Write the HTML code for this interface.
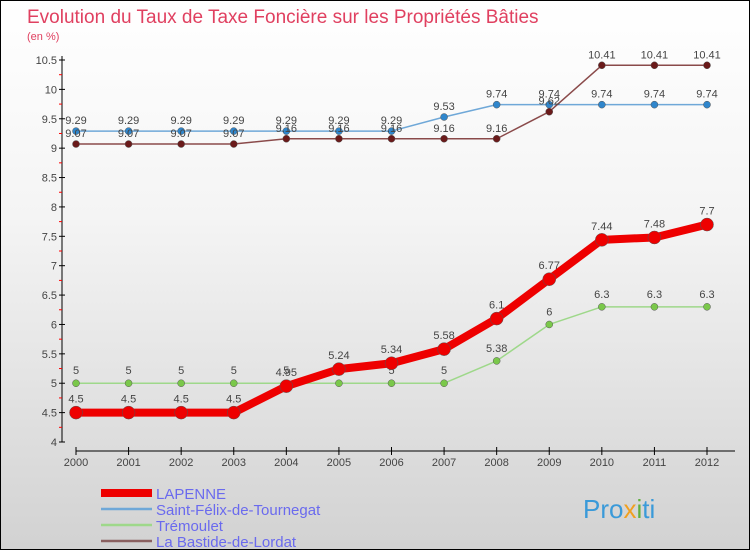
<!DOCTYPE html>
<html><head><meta charset="utf-8"><style>
body{margin:0}
#c{width:750px;height:550px;position:relative;box-sizing:border-box;border:1px solid #000;background:linear-gradient(#fff,#f4f4f4 40%,#d2d2d2);font-family:"Liberation Sans",sans-serif;overflow:hidden}
text{font-family:"Liberation Sans",sans-serif}
</style></head><body>
<div id="c">
<svg id="s" width="750" height="550">
<text x="26" y="22" font-size="19" fill="#e04060">Evolution du Taux de Taxe Foncière sur les Propriétés Bâties</text>
<text x="26" y="39" font-size="11" fill="#e04060">(en %)</text>
<g id="axes"></g><g id="series"></g><g id="legend"></g>
<text x="582" y="517" font-size="26" fill="#3a9ad9">Pro<tspan fill="#f0a020">x</tspan><tspan fill="#60b040">i</tspan>ti</text>
</svg></div>
<script>
const years=[2000,2001,2002,2003,2004,2005,2006,2007,2008,2009,2010,2011,2012];
const yTicks=[4,4.5,5,5.5,6,6.5,7,7.5,8,8.5,9,9.5,10,10.5];
const lapenne=[4.5,4.5,4.5,4.5,4.95,5.24,5.34,5.58,6.1,6.77,7.44,7.48,7.7];
const stFelix=[9.29,9.29,9.29,9.29,9.29,9.29,9.29,9.53,9.74,9.74,9.74,9.74,9.74];
const tremoulet=[5,5,5,5,5,5,5,5,5.38,6,6.3,6.3,6.3];
const bastide=[9.07,9.07,9.07,9.07,9.16,9.16,9.16,9.16,9.16,9.62,10.41,10.41,10.41];
const names=["LAPENNE","Saint-Félix-de-Tournegat","Trémoulet","La Bastide-de-Lordat"];
const NS="http://www.w3.org/2000/svg";
const X=i=>75+i*(706-75)/12;
const Y=v=>441-(v-4)*(441-59)/6.5;
function mk(p,t,a){const e=document.createElementNS(NS,t);for(const k in a)e.setAttribute(k,a[k]);p.appendChild(e);return e;}
const ax=document.getElementById('axes');
mk(ax,'line',{x1:61,y1:55,x2:61,y2:441,stroke:'#000'});
mk(ax,'line',{x1:75,y1:450,x2:734,y2:450,stroke:'#000'});
yTicks.forEach(v=>{const y=Y(v);mk(ax,'line',{x1:58,y1:y,x2:64,y2:y,stroke:'#000'});
 mk(ax,'line',{x1:58,y1:y+14.7,x2:61,y2:y+14.7,stroke:v>4?'#f00':'none'});
 const t=mk(ax,'text',{x:56,y:y+4,'font-size':11,fill:'#444','text-anchor':'end'});t.textContent=v;
 });
years.forEach((yr,i)=>{const x=X(i);mk(ax,'line',{x1:x,y1:446,x2:x,y2:454,stroke:'#000'});
 const t=mk(ax,'text',{x:x,y:465,'font-size':11,fill:'#444','text-anchor':'middle'});t.textContent=yr;
 });
const sg=document.getElementById('series');
const defs=[[stFelix,'#6fa8d8','#2f86cc',1.5,3.5,-7],[bastide,'#8a4a4a','#6a1a1a',1.5,3.5,-7],[tremoulet,'#9ed88a','#7ac84a',1.5,3.5,-9],[lapenne,'#ee0000','#ee0000',8,6.5,-10]];
const order=[1,3,2,0];
defs.forEach((d,k)=>{const [vals,lc,pc,w,r,off]=d;const g=mk(sg,'g',{});
 
 
 const pl=mk(g,'polyline',{points:vals.map((v,i)=>X(i)+','+Y(v)).join(' '),fill:'none',stroke:lc,'stroke-width':w,'stroke-linejoin':'round'});
 
 vals.forEach((v,i)=>{const c=mk(g,'circle',{cx:X(i),cy:Y(v),r:r,fill:pc,stroke:'#555','stroke-width':0.5});
  
  const t=mk(g,'text',{x:X(i),y:Y(v)+off,'font-size':11,fill:'#444','text-anchor':'middle'});t.textContent=v;
  });});
const lg=document.getElementById('legend');
const lcols=['#ee0000','#6fa8d8','#9ed88a','#8a6060'],lw=[8,2.5,2.5,2.5];
names.forEach((n,i)=>{const y=492+i*16;const g=mk(lg,'g',{});
 
 mk(g,'line',{x1:100,y1:y,x2:151,y2:y,stroke:lcols[i],'stroke-width':lw[i]});
 const t=mk(g,'text',{x:155,y:y+6,'font-size':15,fill:'#6a6aee'});t.textContent=n;});
</script></body></html>
